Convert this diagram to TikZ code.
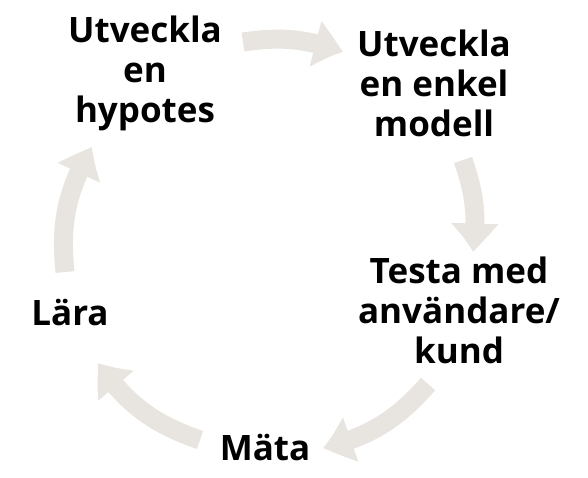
\documentclass[tikz,border=0pt]{standalone}
\usepackage{fontspec}
\setmainfont{Open Sans}
\usetikzlibrary{arrows.meta,bending}
\definecolor{arrfill}{RGB}{232,228,223}
\tikzset{
  lbl/.style={font=\bfseries\fontsize{35}{40}\selectfont, align=center, inner sep=0pt, anchor=base, text=black},
  cyc/.style={draw=arrfill, line width=19pt, line cap=butt, -{Triangle[width=44pt,length=30pt,bend]}},
}
\begin{document}
\begin{tikzpicture}[x=1pt,y=1pt]
\useasboundingbox (0,0) rectangle (588,477);
% arrow ends
\coordinate (t1) at (243,435); \coordinate (h1) at (343,425);
\coordinate (t2) at (463,317); \coordinate (h2) at (473,225);
\coordinate (t3) at (428,93);  \coordinate (h3) at (323,29);
\coordinate (t4) at (200,37);  \coordinate (h4) at (98,114);
\coordinate (t5) at (65,205);  \coordinate (h5) at (92,330);
\draw[cyc] (t1) to[bend left=14] (h1);
\draw[cyc] (t2) to[bend left=13] (h2);
\draw[cyc] (t3) to[bend left=17.5] (h3);
\draw[cyc] (t4) to[bend left=18] (h4);
\draw[cyc] (t5) to[bend left=18] (h5);
% labels (base anchor = baseline of last line)
\node[lbl] (hyp) at (145,354) {Utveckla\\en\\hypotes};
\node[lbl] (mod) at (434,340.3) {Utveckla\\en enkel\\modell};
\node[lbl] (test) at (459,114) {Testa med\\användare/\\kund};
\node[lbl] (mata) at (265,17) {Mäta};
\node[lbl] (lara) at (70,152) {Lära};
\end{tikzpicture}
\end{document}
